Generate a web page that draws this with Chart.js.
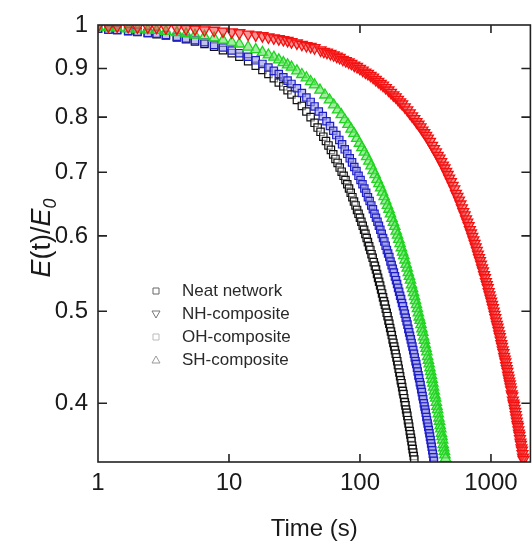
<!DOCTYPE html>
<html>
<head>
<meta charset="utf-8">
<script src="https://cdn.jsdelivr.net/npm/chart.js@4.4.1/dist/chart.umd.min.js"></script>
<style>
  html, body { margin: 0; padding: 0; background: #fff; overflow: hidden; }
  #wrap { width: 538px; height: 544px; }
</style>
</head>
<body>
<div id="wrap"><canvas id="chart" width="538" height="544"></canvas></div>
<script>
// time grid shared by all four curves at short times (s)
const timeEarly = [1, 1.2, 1.4, 1.7, 2, 2.4, 2.8, 3.3, 4, 4.7, 5.5, 6.5, 7.7, 9, 10.5, 12, 14, 16, 18, 20, 22, 24, 26, 28, 30, 33, 36, 39, 42, 45];

// Neat network
const neatTimeLate = [47.5, 50, 52.5, 55, 57.5, 60, 62.5, 65, 67.5, 70, 72.5, 75, 77.5, 80, 82.5, 85, 87.5, 90, 92.5, 95, 97.5, 100, 102.5, 105, 107.5, 110, 112.5, 115, 117.5, 120, 122.5, 125, 127.5, 130, 132.5, 135, 137.5, 140, 142.5, 145, 147.5, 150, 152.5, 155, 157.5, 160, 162.5, 165, 167.5, 170, 172.5, 175, 177.5, 180, 182.5, 185, 187.5, 190, 192.5, 195, 197.5, 200, 202.5, 205, 207.5, 210, 212.5, 215, 217.5, 220, 222.5, 225, 227.5, 230, 232.5, 235, 237.5, 240, 242.5, 245, 247.5, 250, 252.5, 255, 257.5, 260];
const neatEarly = [0.991, 0.989, 0.988, 0.985, 0.983, 0.981, 0.978, 0.975, 0.970, 0.966, 0.961, 0.955, 0.949, 0.941, 0.934, 0.926, 0.916, 0.906, 0.897, 0.888, 0.879, 0.870, 0.862, 0.854, 0.845, 0.834, 0.822, 0.811, 0.800, 0.789];
const neatLate = [0.780, 0.772, 0.763, 0.755, 0.747, 0.739, 0.731, 0.723, 0.716, 0.708, 0.701, 0.694, 0.687, 0.680, 0.673, 0.666, 0.659, 0.652, 0.646, 0.639, 0.633, 0.627, 0.621, 0.615, 0.609, 0.603, 0.597, 0.591, 0.585, 0.580, 0.574, 0.569, 0.563, 0.558, 0.553, 0.547, 0.542, 0.537, 0.532, 0.527, 0.522, 0.517, 0.512, 0.508, 0.503, 0.498, 0.494, 0.489, 0.485, 0.480, 0.476, 0.472, 0.467, 0.463, 0.459, 0.455, 0.451, 0.447, 0.443, 0.439, 0.435, 0.431, 0.427, 0.423, 0.420, 0.416, 0.412, 0.409, 0.405, 0.401, 0.398, 0.394, 0.391, 0.388, 0.384, 0.381, 0.378, 0.374, 0.371, 0.368, 0.365, 0.361, 0.358, 0.355, 0.352, 0.349];

// NH-composite
const nhTimeLate = [50, 53, 56, 59.5, 63, 66.5, 70, 74, 78, 82, 86, 90.5, 95, 100, 105, 110, 115, 120.5, 126, 132, 138, 144, 150, 157.5, 165, 172.5, 180, 187.5, 195, 202.5, 210, 220, 230, 240, 250, 260, 270, 280, 290, 300, 310, 320, 330, 342.5, 355, 367.5, 380, 392.5, 405, 417.5, 430, 442.5, 455, 467.5, 480, 495, 510, 525, 540, 555, 570, 585, 600, 615, 630, 645, 660, 675, 690, 705, 720, 735, 750, 765, 780, 795, 810, 825, 840, 855, 870, 885, 900, 915, 930, 945, 960, 975, 990, 1005, 1020, 1035, 1050, 1065, 1080, 1095, 1110, 1125, 1140, 1155, 1170, 1185, 1200, 1215, 1230, 1245, 1260, 1275, 1290, 1305, 1320, 1335, 1350, 1365, 1380, 1395, 1410, 1425, 1440, 1455, 1470, 1485, 1500, 1515, 1530, 1545, 1560, 1575, 1590, 1605, 1620, 1635, 1650, 1665, 1680, 1695, 1710, 1725, 1740, 1755, 1770];
const nhEarly = [0.997, 0.997, 0.997, 0.996, 0.995, 0.995, 0.994, 0.993, 0.992, 0.991, 0.990, 0.988, 0.987, 0.985, 0.983, 0.981, 0.978, 0.976, 0.974, 0.971, 0.969, 0.967, 0.965, 0.963, 0.960, 0.957, 0.954, 0.951, 0.949, 0.946];
const nhLate = [0.941, 0.938, 0.936, 0.933, 0.930, 0.927, 0.924, 0.920, 0.917, 0.914, 0.911, 0.907, 0.904, 0.900, 0.896, 0.892, 0.889, 0.885, 0.881, 0.876, 0.872, 0.868, 0.864, 0.859, 0.854, 0.849, 0.844, 0.840, 0.835, 0.830, 0.826, 0.820, 0.814, 0.808, 0.802, 0.797, 0.791, 0.786, 0.781, 0.775, 0.770, 0.765, 0.760, 0.754, 0.747, 0.741, 0.735, 0.729, 0.724, 0.718, 0.712, 0.707, 0.701, 0.696, 0.690, 0.684, 0.678, 0.672, 0.665, 0.660, 0.654, 0.648, 0.642, 0.636, 0.631, 0.625, 0.620, 0.615, 0.609, 0.604, 0.599, 0.594, 0.589, 0.584, 0.579, 0.574, 0.569, 0.565, 0.560, 0.555, 0.551, 0.546, 0.542, 0.537, 0.533, 0.529, 0.524, 0.520, 0.516, 0.512, 0.508, 0.504, 0.500, 0.496, 0.492, 0.488, 0.484, 0.481, 0.477, 0.473, 0.470, 0.466, 0.462, 0.459, 0.455, 0.452, 0.448, 0.445, 0.442, 0.438, 0.435, 0.432, 0.428, 0.425, 0.422, 0.419, 0.416, 0.413, 0.409, 0.407, 0.403, 0.400, 0.398, 0.395, 0.392, 0.389, 0.386, 0.383, 0.380, 0.378, 0.375, 0.372, 0.370, 0.367, 0.364, 0.362, 0.359, 0.357, 0.354, 0.351, 0.349];

// OH-composite
const ohTimeLate = [48.5, 52, 55.5, 59, 62.5, 66, 69.5, 73, 76.5, 80, 83.5, 87, 90.5, 94, 97.5, 101, 104.5, 108, 111.5, 115, 118.5, 122, 125.5, 129, 132.5, 136, 139.5, 143, 146.5, 150, 153.5, 157, 160.5, 164, 167.5, 171, 174.5, 178, 181.5, 185, 188.5, 192, 195.5, 199, 202.5, 206, 209.5, 213, 216.5, 220, 223.5, 227, 230.5, 234, 237.5, 241, 244.5, 248, 251.5, 255, 258.5, 262, 265.5, 269, 272.5, 276, 279.5, 283, 286.5, 290, 293.5, 297, 300.5, 304, 307.5, 311, 314.5, 318, 321.5, 325, 328.5, 332, 335.5, 339, 342.5, 346, 349.5, 353, 356.5, 360, 363.5, 367];
const ohEarly = [0.991, 0.989, 0.988, 0.986, 0.984, 0.981, 0.979, 0.976, 0.972, 0.968, 0.964, 0.959, 0.953, 0.947, 0.940, 0.934, 0.926, 0.918, 0.910, 0.902, 0.895, 0.888, 0.881, 0.874, 0.867, 0.858, 0.848, 0.839, 0.830, 0.821];
const ohLate = [0.811, 0.802, 0.792, 0.783, 0.774, 0.766, 0.757, 0.749, 0.740, 0.732, 0.724, 0.717, 0.709, 0.702, 0.694, 0.687, 0.680, 0.673, 0.666, 0.659, 0.653, 0.646, 0.640, 0.633, 0.627, 0.621, 0.615, 0.609, 0.603, 0.597, 0.592, 0.586, 0.580, 0.575, 0.570, 0.564, 0.559, 0.554, 0.549, 0.544, 0.539, 0.534, 0.529, 0.524, 0.519, 0.515, 0.510, 0.506, 0.501, 0.497, 0.492, 0.488, 0.484, 0.479, 0.475, 0.471, 0.467, 0.463, 0.459, 0.455, 0.451, 0.447, 0.443, 0.440, 0.436, 0.432, 0.428, 0.425, 0.421, 0.418, 0.414, 0.411, 0.407, 0.404, 0.400, 0.397, 0.394, 0.391, 0.387, 0.384, 0.381, 0.378, 0.375, 0.372, 0.369, 0.366, 0.363, 0.360, 0.357, 0.354, 0.351, 0.348];

// SH-composite
const shTimeLate = [49.5, 54, 58.5, 63, 67.5, 72, 76.5, 81, 85.5, 90, 94.5, 99, 103.5, 108, 112.5, 117, 121.5, 126, 130.5, 135, 139.5, 144, 148.5, 153, 157.5, 162, 166.5, 171, 175.5, 180, 184.5, 189, 193.5, 198, 202.5, 207, 211.5, 216, 220.5, 225, 229.5, 234, 238.5, 243, 247.5, 252, 256.5, 261, 265.5, 270, 274.5, 279, 283.5, 288, 292.5, 297, 301.5, 306, 310.5, 315, 319.5, 324, 328.5, 333, 337.5, 342, 346.5, 351, 355.5, 360, 364.5, 369, 373.5, 378, 382.5, 387, 391.5, 396, 400.5, 405, 409.5, 414, 418.5, 423, 427.5, 432, 436.5, 441, 445.5, 450];
const shEarly = [0.995, 0.994, 0.993, 0.991, 0.990, 0.988, 0.987, 0.985, 0.982, 0.979, 0.976, 0.973, 0.969, 0.964, 0.959, 0.955, 0.948, 0.942, 0.936, 0.930, 0.925, 0.919, 0.913, 0.908, 0.903, 0.895, 0.887, 0.880, 0.872, 0.865];
const shLate = [0.854, 0.844, 0.834, 0.824, 0.814, 0.805, 0.795, 0.786, 0.777, 0.769, 0.760, 0.751, 0.743, 0.735, 0.727, 0.719, 0.711, 0.703, 0.696, 0.688, 0.681, 0.674, 0.667, 0.660, 0.653, 0.646, 0.640, 0.633, 0.626, 0.620, 0.614, 0.607, 0.601, 0.595, 0.589, 0.583, 0.577, 0.572, 0.566, 0.560, 0.555, 0.549, 0.544, 0.539, 0.533, 0.528, 0.523, 0.518, 0.513, 0.508, 0.503, 0.498, 0.493, 0.489, 0.484, 0.479, 0.475, 0.470, 0.466, 0.461, 0.457, 0.453, 0.448, 0.444, 0.440, 0.436, 0.432, 0.428, 0.424, 0.420, 0.416, 0.412, 0.408, 0.405, 0.401, 0.397, 0.394, 0.390, 0.386, 0.383, 0.379, 0.376, 0.372, 0.369, 0.366, 0.362, 0.359, 0.356, 0.353, 0.350];

const seriesNames = ["Neat network", "NH-composite", "OH-composite", "SH-composite"];
const xTicks = [1, 10, 100, 1000];
const yTicks = [0.4, 0.5, 0.6, 0.7, 0.8, 0.9, 1];

const FONT = "'Liberation Sans', Arial, sans-serif";

function points(timeLate, early, late) {
  const t = timeEarly.concat(timeLate);
  const v = early.concat(late);
  return t.map((x, i) => ({ x: x, y: v[i] }));
}

// frame with inward ticks on all four sides, y title and the legend
const decorPlugin = {
  id: "decor",
  afterDatasetsDraw(chart) {
    const ctx = chart.ctx;
    const a = chart.chartArea;
    const xs = chart.scales.x;
    const ys = chart.scales.y;
    ctx.save();
    ctx.strokeStyle = "#222";
    ctx.lineWidth = 1.6;
    ctx.strokeRect(a.left, a.top, a.right - a.left, a.bottom - a.top);

    ctx.beginPath();
    xs.ticks.forEach(t => {
      const px = xs.getPixelForValue(t.value);
      if (px < a.left + 2 || px > a.right - 2) return;
      ctx.moveTo(px, a.bottom); ctx.lineTo(px, a.bottom - 8);
      ctx.moveTo(px, a.top); ctx.lineTo(px, a.top + 8);
    });
    ys.ticks.forEach(t => {
      const py = ys.getPixelForValue(t.value);
      if (py < a.top + 2 || py > a.bottom - 2) return;
      ctx.moveTo(a.left, py); ctx.lineTo(a.left + 9, py);
      ctx.moveTo(a.right, py); ctx.lineTo(a.right - 9, py);
    });
    ctx.stroke();
    ctx.restore();

    // y axis title: E(t)/E0 with italic E and subscript 0
    ctx.save();
    ctx.translate(41, 238);
    ctx.rotate(-Math.PI / 2);
    ctx.fillStyle = "#1a1a1a";
    ctx.textBaseline = "alphabetic";
    const parts = [
      { s: "E", f: "italic 27px " + FONT, dy: 0 },
      { s: "(t)/", f: "27px " + FONT, dy: 0 },
      { s: "E", f: "italic 27px " + FONT, dy: 0 },
      { s: "0", f: "italic 18px " + FONT, dy: 6 }
    ];
    let w = 0;
    parts.forEach(p => { ctx.font = p.f; p.w = ctx.measureText(p.s).width; w += p.w; });
    let cx = -w / 2;
    parts.forEach(p => {
      ctx.font = p.f;
      ctx.fillText(p.s, cx, 9 + p.dy);
      cx += p.w;
    });
    ctx.restore();

    // legend inside the plot
    ctx.save();
    const rowsY = [291, 314, 337, 360];
    const markColors = ["#666", "#777", "#bbb", "#999"];
    chart.data.datasets.forEach((ds, i) => {
      const y = rowsY[i];
      const mx = 156;
      ctx.strokeStyle = markColors[i];
      ctx.lineWidth = 1;
      ctx.beginPath();
      if (ds.pointStyle === "rect") {
        ctx.rect(mx - 3, y - 3, 6, 6);
      } else if (ds.pointRotation === 180) {
        ctx.moveTo(mx - 4, y - 3); ctx.lineTo(mx + 4, y - 3); ctx.lineTo(mx, y + 4); ctx.closePath();
      } else {
        ctx.moveTo(mx - 4, y + 3); ctx.lineTo(mx + 4, y + 3); ctx.lineTo(mx, y - 4); ctx.closePath();
      }
      ctx.stroke();
      ctx.fillStyle = "#2a2a2a";
      ctx.font = "17px " + FONT;
      ctx.textBaseline = "middle";
      ctx.fillText(ds.label, 182, y);
    });
    ctx.restore();
  }
};

new Chart(document.getElementById("chart"), {
  type: "scatter",
  data: {
    datasets: [
      {
        label: seriesNames[0],
        data: points(neatTimeLate, neatEarly, neatLate),
        pointStyle: "rect",
        pointRadius: 5.2,
        borderWidth: 1.2,
        borderColor: "#111",
        backgroundColor: "rgba(255,255,255,0.5)",
        order: 4
      },
      {
        label: seriesNames[1],
        data: points(nhTimeLate, nhEarly, nhLate),
        pointStyle: "triangle",
        pointRotation: 180,
        pointRadius: 6.3,
        borderWidth: 1.3,
        borderColor: "#f51010",
        backgroundColor: "rgba(240,60,60,0.55)",
        order: 1
      },
      {
        label: seriesNames[2],
        data: points(ohTimeLate, ohEarly, ohLate),
        pointStyle: "rect",
        pointRadius: 5.2,
        borderWidth: 1.2,
        borderColor: "#1f1fc8",
        backgroundColor: "rgba(160,160,230,0.65)",
        order: 3
      },
      {
        label: seriesNames[3],
        data: points(shTimeLate, shEarly, shLate),
        pointStyle: "triangle",
        pointRadius: 6,
        borderWidth: 1.3,
        borderColor: "#1fd41f",
        backgroundColor: "rgba(100,225,100,0.6)",
        order: 2
      }
    ]
  },
  options: {
    responsive: false,
    animation: false,
    devicePixelRatio: 1,
    layout: { padding: { top: 25, right: 1, left: 0, bottom: 0 } },
    plugins: { legend: { display: false }, tooltip: { enabled: false } },
    scales: {
      x: {
        type: "logarithmic",
        position: "bottom",
        min: 1,
        max: 2000,
        afterBuildTicks: s => { s.ticks = xTicks.map(v => ({ value: v })); },
        afterFit: s => { s.height = 82; },
        grid: { display: false, drawTicks: false },
        border: { display: false },
        ticks: {
          autoSkip: false,
          maxRotation: 0,
          padding: 7,
          color: "#1a1a1a",
          font: { family: FONT, size: 24 },
          callback: v => String(v)
        },
        title: {
          display: true,
          text: "Time (s)",
          color: "#1a1a1a",
          font: { family: FONT, size: 24 },
          padding: { top: 0, bottom: 0 }
        }
      },
      y: {
        type: "logarithmic",
        position: "left",
        min: 0.347,
        max: 1,
        afterBuildTicks: s => { s.ticks = yTicks.map(v => ({ value: v })); },
        afterFit: s => { s.width = 98; },
        grid: { display: false, drawTicks: false },
        border: { display: false },
        ticks: {
          autoSkip: false,
          padding: 10,
          color: "#1a1a1a",
          font: { family: FONT, size: 24 },
          callback: v => String(v)
        }
      }
    }
  },
  plugins: [decorPlugin]
});
</script>
</body>
</html>
